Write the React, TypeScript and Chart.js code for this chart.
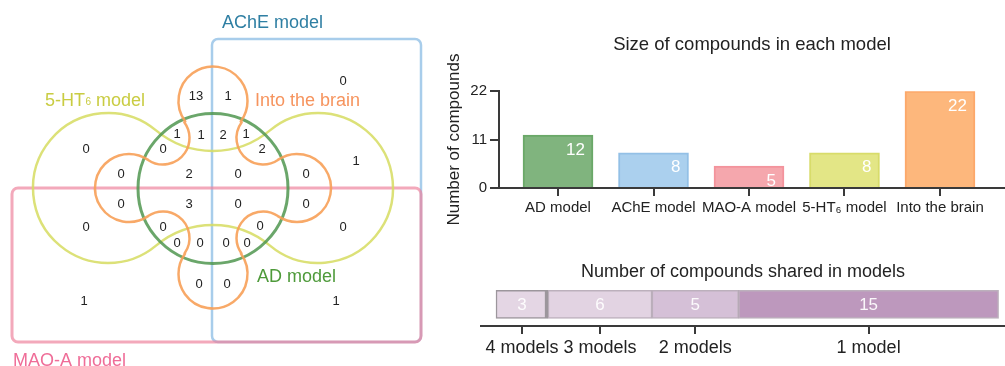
import React, { useEffect, useRef } from 'react';
import { Chart, registerables } from 'chart.js';

Chart.register(...registerables);

const FONT = '"Liberation Sans", Arial, Helvetica, sans-serif';
Chart.defaults.font.family = FONT;

// ---------------- data ----------------
// Venn diagram: count of compounds in each of the 31 regions
const vennRegionCounts = [
  0, 13, 1, 1, 1, 2, 1, 0, 0, 2, 1, 0, 2, 0, 0, 0, 3, 0, 0, 0, 0, 0, 0, 0, 0, 0, 0, 0, 0, 1, 1,
];
// layout: where each region's count is written (diagram units)
const vennRegionPos = [
  [343, 81], [196, 96], [228, 96], [177, 134], [201, 135], [223, 135], [246, 134],
  [86, 149], [163, 149], [262, 149], [356, 161], [121, 174], [189, 174], [238, 174],
  [306, 174], [121, 204], [189, 204], [238, 204], [306, 204], [86, 227], [163, 227],
  [260, 226], [343, 227], [177, 243], [200, 243], [226, 243], [247, 243], [199, 284],
  [227, 284], [84, 301], [336, 301],
];

// Bar chart: size of each model
const modelNames = ['AD model', 'AChE model', 'MAO-A model', '5-HT\u2086 model', 'Into the brain'];
const modelSizes = [12, 8, 5, 8, 22];
const sizeTicks = [0, 11, 22];

// Stacked bar: compounds shared in models
const sharedLabels = ['4 models', '3 models', '2 models', '1 model'];
const sharedCounts = [3, 6, 5, 15];

// ---------------- styles ----------------
const modelFills = ['#80b47e', '#abd0ee', '#f5a7ad', '#e3e686', '#fdb77c'];
const modelBorders = ['#6aa868', '#93c0e6', '#f3939c', '#d8dc6a', '#fca86a'];
const sharedFills = ['#e4d6e4', '#e2d3e2', '#d5c0d7', '#bd98bd'];
const AXIS = '#3a3a3a';
const TEXT = '#222222';

// Venn geometry (diagram units == pixels)
const CX = 213;
const CY = 188;
const achеRect = { x0: 212, y0: 39, x1: 421, y1: 342 };
const maoRect = { x0: 12, y0: 188, x1: 421, y1: 342 };
const adCircle = { x: CX, y: 188.5, r: 75 };
const htLeft = { x: 108, y: CY, r: 75 };
const htRight = { x: 318, y: CY, r: 75 };
const htTopArc = { x: CX, y: 62, r: 89 };
const htBotArc = { x: CX, y: 314, r: 89 };
const brainLobes = [
  { x: CX, y: 101, r: 34.5 },
  { x: 297, y: CY, r: 34 },
  { x: CX, y: 274, r: 34.5 },
  { x: 129, y: CY, r: 34 },
];
const brainNotches = [
  { x: CX + 50, y: CY - 50, r: 26.5 },
  { x: CX + 50, y: CY + 50, r: 26.5 },
  { x: CX - 50, y: CY + 50, r: 26.5 },
  { x: CX - 50, y: CY - 50, r: 26.5 },
];

const vennPlugin = {
  id: 'vennShapes',
  beforeDatasetsDraw(chart: any) {
    const { ctx } = chart;
    const xs = chart.scales.x;
    const ys = chart.scales.y;
    const X = (v: number) => xs.getPixelForValue(v);
    const Y = (v: number) => ys.getPixelForValue(v);
    const k = X(1) - X(0);
    const ang = (a: any, b: any) => Math.atan2(b.y - a.y, b.x - a.x);
    ctx.save();
    ctx.lineJoin = 'round';

    // AChE rectangle
    ctx.lineWidth = 2.5;
    ctx.strokeStyle = '#a8cdeb';
    ctx.beginPath();
    ctx.roundRect(X(achеRect.x0), Y(achеRect.y0), X(achеRect.x1) - X(achеRect.x0), Y(achеRect.y1) - Y(achеRect.y0), 6);
    ctx.stroke();

    // MAO-A rectangle
    ctx.lineWidth = 3;
    ctx.strokeStyle = 'rgba(238,128,155,0.68)';
    ctx.beginPath();
    ctx.roundRect(X(maoRect.x0), Y(maoRect.y0), X(maoRect.x1) - X(maoRect.x0), Y(maoRect.y1) - Y(maoRect.y0), 6);
    ctx.stroke();

    // 5-HT6 shape
    ctx.lineWidth = 2.5;
    ctx.strokeStyle = 'rgba(214,220,96,0.85)';
    ctx.beginPath();
    ctx.arc(X(htLeft.x), Y(htLeft.y), htLeft.r * k, ang(htLeft, htTopArc), ang(htLeft, htBotArc), true);
    ctx.arc(X(htBotArc.x), Y(htBotArc.y), htBotArc.r * k, ang(htBotArc, htLeft), ang(htBotArc, htRight), false);
    ctx.arc(X(htRight.x), Y(htRight.y), htRight.r * k, ang(htRight, htBotArc), ang(htRight, htTopArc), true);
    ctx.arc(X(htTopArc.x), Y(htTopArc.y), htTopArc.r * k, ang(htTopArc, htRight), ang(htTopArc, htLeft), false);
    ctx.closePath();
    ctx.stroke();

    // AD circle
    ctx.lineWidth = 3;
    ctx.strokeStyle = 'rgba(80,150,80,0.85)';
    ctx.beginPath();
    ctx.arc(X(adCircle.x), Y(adCircle.y), adCircle.r * k, 0, Math.PI * 2);
    ctx.stroke();

    // Into the brain shape
    ctx.lineWidth = 2.5;
    ctx.strokeStyle = 'rgba(247,160,88,0.9)';
    ctx.beginPath();
    for (let i = 0; i < 4; i++) {
      const l = brainLobes[i];
      const prev = brainNotches[(i + 3) % 4];
      const next = brainNotches[i];
      ctx.arc(X(l.x), Y(l.y), l.r * k, ang(l, prev), ang(l, next), false);
      const n = brainNotches[i];
      const ln = brainLobes[(i + 1) % 4];
      ctx.arc(X(n.x), Y(n.y), n.r * k, ang(n, l), ang(n, ln), true);
    }
    ctx.closePath();
    ctx.stroke();

    // set names
    ctx.textBaseline = 'alphabetic';
    ctx.textAlign = 'left';
    ctx.font = `18px ${FONT}`;
    ctx.fillStyle = '#2f7fa3';
    ctx.fillText('AChE model', X(222), Y(28));
    ctx.fillStyle = '#f6945e';
    ctx.fillText('Into the brain', X(255), Y(106));
    ctx.fillStyle = '#4e9a3a';
    ctx.fillText('AD model', X(257), Y(282));
    ctx.fillStyle = '#ef6d98';
    ctx.fillText('MAO-A model', X(13), Y(366));
    ctx.fillStyle = '#c9cc42';
    let tx = X(45);
    ctx.fillText('5-HT', tx, Y(106));
    tx += ctx.measureText('5-HT').width + 0.5;
    ctx.font = `10px ${FONT}`;
    ctx.fillText('6', tx, Y(106) - 1);
    tx += ctx.measureText('6').width;
    ctx.font = `18px ${FONT}`;
    ctx.fillText(' model', tx, Y(106));
    ctx.restore();
  },
  afterDatasetsDraw(chart: any) {
    const { ctx } = chart;
    const meta = chart.getDatasetMeta(0);
    ctx.save();
    ctx.font = `13px ${FONT}`;
    ctx.fillStyle = TEXT;
    ctx.textAlign = 'center';
    ctx.textBaseline = 'middle';
    meta.data.forEach((el: any, i: number) => {
      ctx.fillText(String(vennRegionCounts[i]), el.x, el.y);
    });
    ctx.restore();
  },
};

const sizeLabelPlugin = {
  id: 'sizeLabels',
  afterDatasetsDraw(chart: any) {
    const { ctx } = chart;
    const meta = chart.getDatasetMeta(0);
    ctx.save();
    ctx.font = `17px ${FONT}`;
    ctx.fillStyle = '#ffffff';
    ctx.textAlign = 'right';
    ctx.textBaseline = 'middle';
    meta.data.forEach((el: any, i: number) => {
      ctx.fillText(String(modelSizes[i]), el.x + el.width / 2 - 8, el.y + 15);
    });
    ctx.restore();
  },
};

const sharedLabelPlugin = {
  id: 'sharedLabels',
  afterDatasetsDraw(chart: any) {
    const { ctx } = chart;
    ctx.save();
    ctx.font = `17px ${FONT}`;
    ctx.fillStyle = 'rgba(255,255,255,0.92)';
    ctx.textAlign = 'center';
    ctx.textBaseline = 'middle';
    sharedCounts.forEach((v, i) => {
      const el: any = chart.getDatasetMeta(i).data[0];
      ctx.fillText(String(v), (el.x + el.base) / 2, el.y + 1);
    });
    ctx.restore();
  },
};

export default function App() {
  const vennRef = useRef<HTMLCanvasElement>(null);
  const sizeRef = useRef<HTMLCanvasElement>(null);
  const sharedRef = useRef<HTMLCanvasElement>(null);

  useEffect(() => {
    const charts: Chart[] = [];

    charts.push(
      new Chart(vennRef.current as HTMLCanvasElement, {
        type: 'scatter',
        data: {
          datasets: [
            {
              data: vennRegionCounts.map((v, i) => ({ x: vennRegionPos[i][0], y: vennRegionPos[i][1] })),
              pointRadius: 0,
            },
          ],
        },
        options: {
          animation: false,
          responsive: false,
          devicePixelRatio: 1,
          layout: { padding: 0 },
          plugins: { legend: { display: false }, tooltip: { enabled: false }, title: { display: false } },
          scales: {
            x: { type: 'linear', min: 0, max: 440, display: false },
            y: { type: 'linear', min: 0, max: 366, reverse: true, display: false },
          },
        },
        plugins: [vennPlugin],
      } as any)
    );

    charts.push(
      new Chart(sizeRef.current as HTMLCanvasElement, {
        type: 'bar',
        data: {
          datasets: [
            {
              data: modelSizes.map((v, i) => ({ x: i, y: v })),
              backgroundColor: modelFills,
              borderColor: modelBorders,
              borderWidth: 2,
              barThickness: 70,
            },
          ],
        },
        options: {
          animation: false,
          responsive: false,
          devicePixelRatio: 1,
          layout: { padding: 0 },
          plugins: {
            legend: { display: false },
            tooltip: { enabled: false },
            title: {
              display: true,
              text: 'Size of compounds in each model',
              color: TEXT,
              font: { size: 18.5, weight: 'normal' },
              padding: { top: 34, bottom: 35 },
              fullSize: false,
            },
          },
          scales: {
            x: {
              type: 'linear',
              offset: false,
              min: -0.618,
              max: 4.681,
              afterBuildTicks: (s: any) => {
                s.ticks = modelNames.map((_, i) => ({ value: i }));
              },
              afterFit: (s: any) => {
                s.height = 52;
              },
              ticks: {
                callback: (v: any) => modelNames[v],
                color: TEXT,
                font: { size: 15 },
                autoSkip: false,
                maxRotation: 0,
                padding: 3,
              },
              grid: { offset: false, drawOnChartArea: false, drawTicks: true, tickLength: 8, color: AXIS, lineWidth: 2 },
              border: { display: true, color: AXIS, width: 2 },
            },
            y: {
              type: 'linear',
              min: 0,
              max: 22,
              afterBuildTicks: (s: any) => {
                s.ticks = sizeTicks.map((v) => ({ value: v }));
              },
              afterFit: (s: any) => {
                s.width = 59;
              },
              ticks: { color: TEXT, font: { size: 15 }, padding: 3 },
              grid: { drawOnChartArea: false, drawTicks: true, tickLength: 9, color: AXIS, lineWidth: 2 },
              border: { display: true, color: AXIS, width: 2 },
              title: {
                display: true,
                text: 'Number of compounds',
                color: TEXT,
                font: { size: 17 },
                padding: { top: 4, bottom: 0 },
              },
            },
          },
        },
        plugins: [sizeLabelPlugin],
      } as any)
    );

    const mids: number[] = [];
    let acc = 0;
    sharedCounts.forEach((v) => {
      mids.push(acc + v / 2);
      acc += v;
    });

    charts.push(
      new Chart(sharedRef.current as HTMLCanvasElement, {
        type: 'bar',
        data: {
          labels: [''],
          datasets: sharedCounts.map((v, i) => ({
            data: [v],
            backgroundColor: sharedFills[i],
            borderColor: i === 0 ? '#9c969c' : 'rgba(165,150,165,0.75)',
            borderWidth: i === 0 ? { top: 1.5, bottom: 1.5, left: 1.5, right: 3.5 } : 1.5,
            borderSkipped: false,
            barThickness: 28,
          })),
        },
        options: {
          indexAxis: 'y',
          animation: false,
          responsive: false,
          devicePixelRatio: 1,
          layout: { padding: { left: 41, right: 0, top: 0, bottom: 0 } },
          plugins: {
            legend: { display: false },
            tooltip: { enabled: false },
            title: {
              display: true,
              text: 'Number of compounds shared in models',
              color: TEXT,
              font: { size: 18, weight: 'normal' },
              padding: { top: 21, bottom: 0 },
              fullSize: false,
            },
          },
          scales: {
            x: {
              type: 'linear',
              stacked: true,
              offset: false,
              min: -0.866,
              max: 29.37,
              afterBuildTicks: (s: any) => {
                s.ticks = mids.map((v) => ({ value: v }));
              },
              afterFit: (s: any) => {
                s.height = 40;
              },
              ticks: {
                callback: (_v: any, i: number) => sharedLabels[i],
                color: TEXT,
                font: { size: 18 },
                autoSkip: false,
                maxRotation: 0,
                padding: 3,
              },
              grid: { offset: false, drawOnChartArea: false, drawTicks: true, tickLength: 8, color: AXIS, lineWidth: 2 },
              border: { display: true, color: AXIS, width: 2 },
            },
            y: { stacked: true, display: false },
          },
        },
        plugins: [sharedLabelPlugin],
      } as any)
    );

    return () => charts.forEach((c) => c.destroy());
  }, []);

  return (
    <div style={{ position: 'fixed', left: 0, top: 0, width: 1005, height: 366, background: '#ffffff', overflow: 'hidden' }}>
      <canvas ref={vennRef} width={440} height={366} style={{ position: 'absolute', left: 0, top: 0 }} />
      <canvas ref={sizeRef} width={565} height={240} style={{ position: 'absolute', left: 440, top: 0 }} />
      <canvas ref={sharedRef} width={565} height={126} style={{ position: 'absolute', left: 440, top: 240 }} />
    </div>
  );
}
